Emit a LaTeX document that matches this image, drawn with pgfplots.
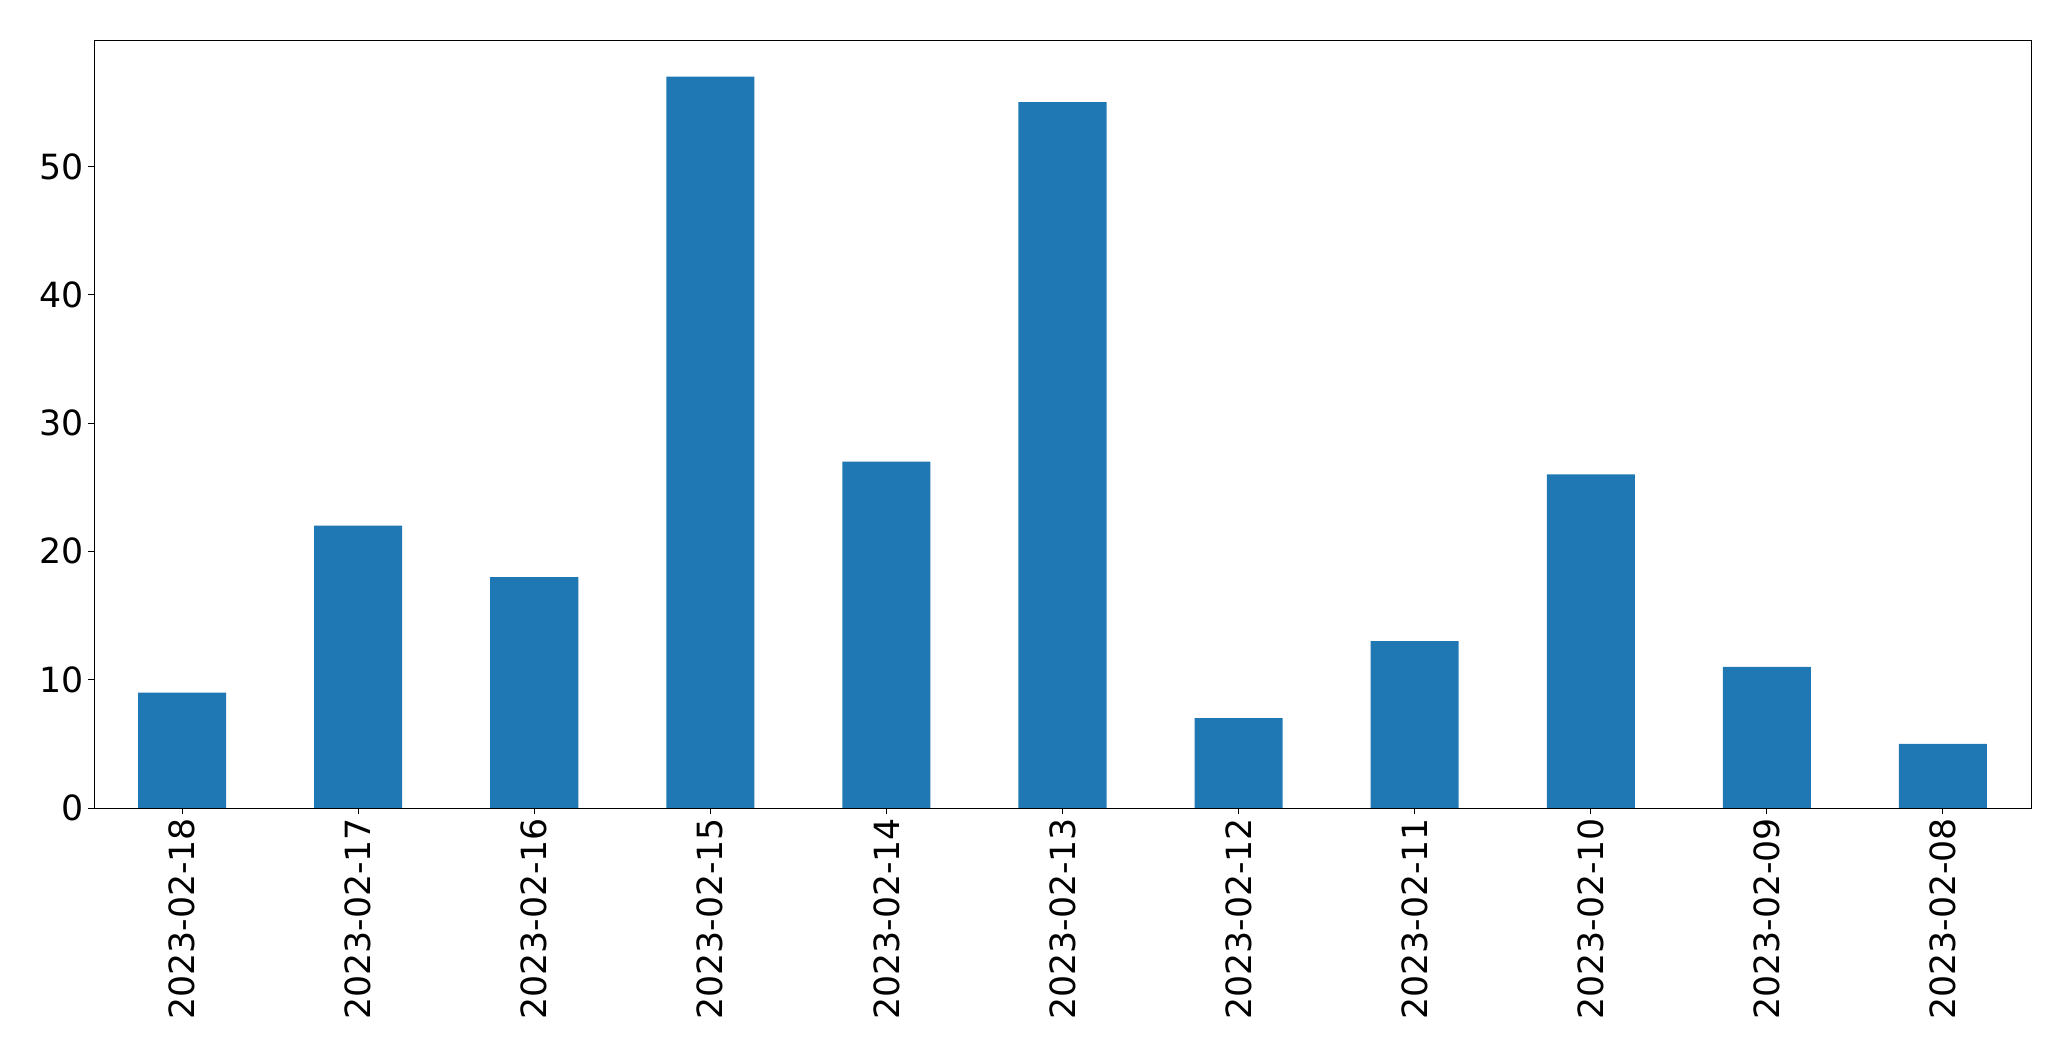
\documentclass[border=0pt]{standalone}
\usepackage{pgfplots}
\pgfplotsset{compat=1.18}
\usepackage{fontspec}
\setmainfont{DejaVu Sans}
\definecolor{barblue}{HTML}{1F77B4}
\begin{document}
\begin{tikzpicture}
\begin{axis}[
  name=ax,
  at={(0,0)}, anchor=south west,
  scale only axis,
  width=1394.64pt, height=552.96pt,
  xmin=-0.5, xmax=10.5,
  ymin=0, ymax=59.85,
  xtick={0,...,10},
  xticklabels={2023-02-18,2023-02-17,2023-02-16,2023-02-15,2023-02-14,2023-02-13,2023-02-12,2023-02-11,2023-02-10,2023-02-09,2023-02-08},
  x tick label style={rotate=90, anchor=east, inner sep=3pt},
  y tick label style={inner sep=3pt},
  ytick={0,10,20,30,40,50},
  /pgf/number format/assume math mode=true,
  tick label style={font=\fontsize{25}{30}\selectfont},
  tick align=outside,
  tick pos=left,
  major tick length=4pt,
  axis line style={line width=0.7pt},
  every tick/.style={black, line width=0.7pt},
]
\addplot[ybar, bar width=0.5, fill=barblue, draw=none, bar shift=0pt] coordinates {
(0,9) (1,22) (2,18) (3,57) (4,27) (5,55) (6,7) (7,13) (8,26) (9,11) (10,5)
};
\end{axis}
\pgfresetboundingbox
\path (ax.south west) ++(-67.68pt,-182.16pt) coordinate (bl);
\path (ax.north east) ++(28.8pt,28.8pt) coordinate (tr);
\path[use as bounding box] (bl) rectangle (tr);
\end{tikzpicture}
\end{document}
